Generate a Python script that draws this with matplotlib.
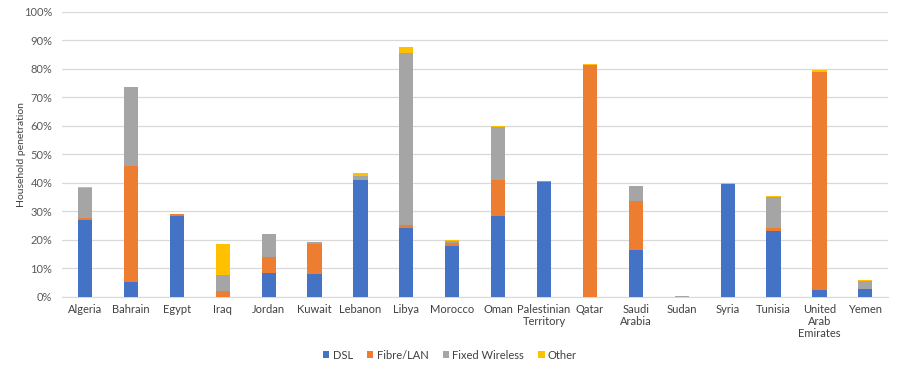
import matplotlib
import matplotlib.pyplot as plt
import numpy as np
from matplotlib.ticker import PercentFormatter

matplotlib.use("Agg")

countries = [
    "Algeria", "Bahrain", "Egypt", "Iraq", "Jordan", "Kuwait", "Lebanon",
    "Libya", "Morocco", "Oman", "Palestinian\nTerritory", "Qatar",
    "Saudi\nArabia", "Sudan", "Syria", "Tunisia", "United\nArab\nEmirates",
    "Yemen",
]

# household penetration, percent
dsl = [27.0, 5.3, 28.5, 0.0, 8.3, 8.0, 41.0, 24.3, 17.9, 28.5, 40.3, 0.0,
       16.4, 0.0, 39.5, 23.2, 2.3, 2.7]
fibre = [0.5, 40.7, 0.4, 1.9, 5.5, 10.6, 0.0, 1.0, 0.9, 12.5, 0.2, 81.3,
         17.1, 0.0, 0.0, 0.9, 76.5, 0.0]
fixed_wireless = [10.6, 27.5, 0.0, 5.7, 8.3, 0.7, 1.5, 60.2, 0.8, 18.5, 0.0,
                  0.0, 5.3, 0.4, 0.0, 11.0, 0.0, 2.8]
other = [0.4, 0.0, 0.0, 11.0, 0.0, 0.0, 0.9, 2.3, 0.4, 0.5, 0.0, 0.3,
         0.0, 0.0, 0.5, 0.4, 0.7, 0.5]

series = [
    ("DSL", dsl, "#4472C4"),
    ("Fibre/LAN", fibre, "#ED7D31"),
    ("Fixed Wireless", fixed_wireless, "#A5A5A5"),
    ("Other", other, "#FFC000"),
]

plt.rcParams["font.family"] = ["Lato", "DejaVu Sans"]

fig = plt.figure(figsize=(9, 3.71), dpi=100)
ax = fig.add_axes([0.069, 0.2, 0.918, 0.768])

x = np.arange(len(countries))
bottom = np.zeros(len(countries))
for name, vals, color in series:
    vals = np.array(vals)
    ax.bar(x, vals, 0.31, bottom=bottom, color=color, label=name, zorder=3)
    bottom += vals

ax.set_xlim(-0.5, len(countries) - 0.5)
ax.set_ylim(0, 100)
ax.set_yticks(np.arange(0, 101, 10))
ax.yaxis.set_major_formatter(PercentFormatter(decimals=0))
ax.set_xticks(x)
ax.set_xticklabels(countries, fontsize=8, color="#404040", va="top",
                   linespacing=1.15)
ax.tick_params(axis="y", labelsize=8, labelcolor="#595959", length=0, pad=7)
ax.tick_params(axis="x", length=0, pad=5)

ax.grid(axis="y", color="#D9D9D9", linewidth=0.9, zorder=0)
for side in ["top", "right", "left"]:
    ax.spines[side].set_visible(False)
ax.spines["bottom"].set_color("#D9D9D9")

ax.set_ylabel("Household penetration", fontsize=7.5, color="#404040")
ax.yaxis.set_label_coords(-0.044, 0.5)

fig.legend(
    loc="center", bbox_to_anchor=(0.5, 0.043), ncol=4, frameon=False,
    fontsize=8, handlelength=0.55, handleheight=0.55, handletextpad=0.3,
    columnspacing=1.3, labelcolor="#404040",
)

fig.savefig("out.png", dpi=100)
